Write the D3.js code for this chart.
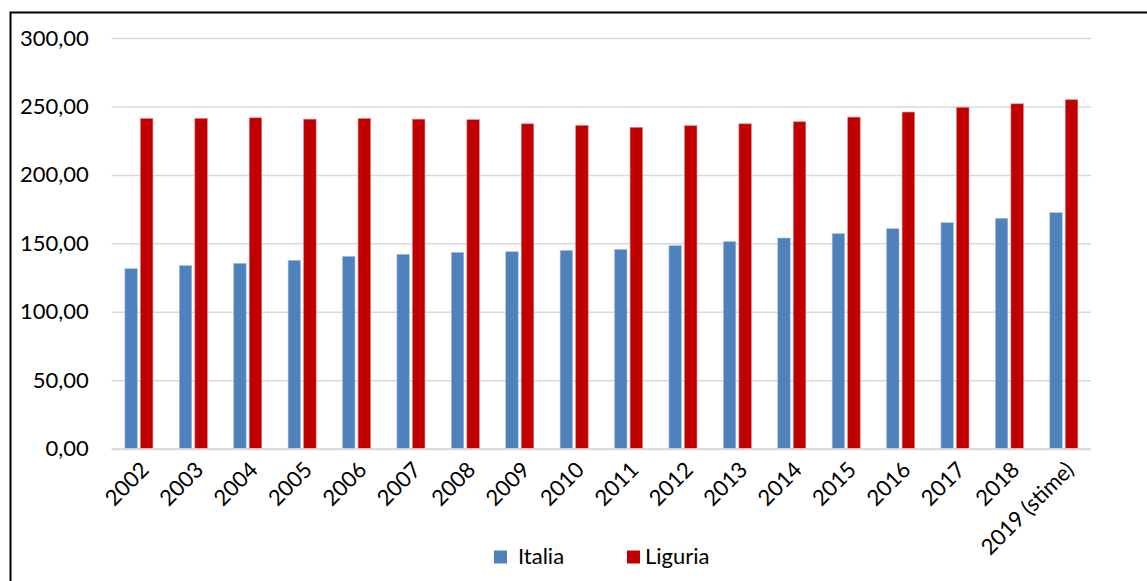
<!DOCTYPE html>
<html>
<head>
<meta charset="utf-8">
<script src="https://cdn.jsdelivr.net/npm/d3@7"></script>
<style>
  html, body { margin: 0; padding: 0; background: #fff; }
  svg { display: block; }
  text { font-family: Lato, "Open Sans", sans-serif; fill: #000; }
</style>
</head>
<body>
<svg id="chart" width="1147" height="581"></svg>
<script>
// Categories and series values
const years = ["2002","2003","2004","2005","2006","2007","2008","2009","2010",
               "2011","2012","2013","2014","2015","2016","2017","2018","2019 (stime)"];
const seriesNames = ["Italia", "Liguria"];
const italia  = [131.5,133.7,135.4,137.6,140.5,142.0,143.4,143.9,144.9,
                 145.6,148.3,151.2,153.9,157.1,160.7,165.1,168.3,172.4];
const liguria = [241.2,241.2,241.7,240.7,241.2,240.7,240.3,237.3,236.1,
                 234.7,235.9,237.3,238.8,242.2,245.9,249.3,251.9,254.9];
const yTicks = [0, 50, 100, 150, 200, 250, 300];
const colors = { Italia: "#4f81bd", Liguria: "#c00000" };

const svg = d3.select("#chart");

// Outer frame (open at right/bottom edges of the page)
svg.append("path")
  .attr("d", "M10.5,581 L10.5,12.5 L1147,12.5")
  .attr("fill", "none").attr("stroke", "#000").attr("stroke-width", 2);

const plot = { left: 111.7, right: 1091, top: 38, bottom: 448.7 };

const y = d3.scaleLinear().domain([0, 300]).range([plot.bottom, plot.top]);
const x0 = d3.scaleBand().domain(years).range([plot.left, plot.right]).paddingInner(0).paddingOuter(0);
const half = 14;
const x1 = d3.scaleBand().domain(seriesNames)
  .range([x0.bandwidth() / 2 - half, x0.bandwidth() / 2 + half])
  .paddingInner(0.2).paddingOuter(0);

const locale = d3.formatLocale({ decimal: ",", thousands: ".", grouping: [3], currency: ["€", ""] });
const fmt = locale.format(".2f");

// Gridlines and y-axis labels
const yAxis = d3.axisLeft(y).tickValues(yTicks).tickFormat(fmt)
  .tickSize(-(plot.right - plot.left)).tickPadding(23);
const gy = svg.append("g").attr("transform", `translate(${plot.left},0)`).call(yAxis);
gy.select(".domain").remove();
gy.selectAll(".tick line").attr("stroke", "#d9d9d9").attr("stroke-width", 1.5);
gy.selectAll(".tick text").attr("font-size", 22).attr("fill", "#000")
  .style("font-family", "Lato, 'Open Sans', sans-serif");

// Bars
const rows = years.map((yr, i) => ({ year: yr, values: { Italia: italia[i], Liguria: liguria[i] } }));
const groups = svg.append("g").selectAll("g").data(rows).join("g")
  .attr("transform", d => `translate(${x0(d.year)},0)`);
groups.selectAll("rect")
  .data(d => seriesNames.map(s => ({ s, v: d.values[s] })))
  .join("rect")
  .attr("x", d => x1(d.s))
  .attr("width", x1.bandwidth())
  .attr("y", d => y(d.v))
  .attr("height", d => y(0) - y(d.v))
  .attr("fill", d => colors[d.s])
  .attr("stroke", d => d.s === "Italia" ? "#a9c0de" : "#e07a7a")
  .attr("stroke-width", 0.6);

// x-axis line at zero
svg.append("line")
  .attr("x1", plot.left).attr("x2", plot.right)
  .attr("y1", y(0) + 0.5).attr("y2", y(0) + 0.5)
  .attr("stroke", "#d9d9d9").attr("stroke-width", 2);

// x-axis labels, rotated
const xAxis = d3.axisBottom(x0).tickSize(0).tickPadding(0);
const gx = svg.append("g").attr("transform", `translate(0,${plot.bottom})`).call(xAxis);
gx.select(".domain").remove();
gx.selectAll(".tick text")
  .attr("font-size", 22).attr("fill", "#000")
  .style("font-family", "Lato, 'Open Sans', sans-serif")
  .attr("text-anchor", "end")
  .attr("dy", "0.35em")
  .attr("transform", "translate(6,17) rotate(-45)");

// Legend
const legend = svg.append("g");
const legendItems = [
  { name: "Italia", sx: 494, tx: 518 },
  { name: "Liguria", sx: 627, tx: 645 }
];
legend.selectAll("rect").data(legendItems).join("rect")
  .attr("x", d => d.sx).attr("y", 550.5)
  .attr("width", 13).attr("height", 13)
  .attr("fill", d => colors[d.name]);
legend.selectAll("text").data(legendItems).join("text")
  .attr("x", d => d.tx).attr("y", 564)
  .attr("font-size", 22)
  .text(d => d.name);
</script>
</body>
</html>
